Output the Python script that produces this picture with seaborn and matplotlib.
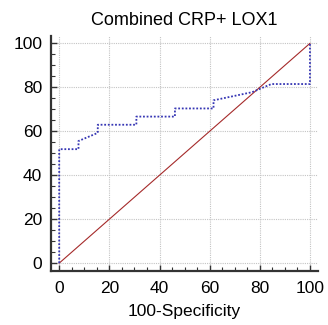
import numpy as np
import pandas as pd
import matplotlib
matplotlib.use("Agg")
import matplotlib.pyplot as plt
from matplotlib.ticker import MultipleLocator
import seaborn as sns

# ROC points (13 negatives, 27 positives)
fpr = [0, 0, 7.69, 7.69, 15.38, 15.38, 30.77, 30.77, 46.15, 46.15, 61.54, 61.54, 76.92, 84.62, 100, 100]
tpr = [0, 51.85, 51.85, 55.56, 59.26, 62.96, 62.96, 66.67, 66.67, 70.37, 70.37, 74.07, 77.78, 81.48, 81.48, 100]
diag = [0, 100]

sns.set_style("ticks")
plt.rcParams['font.family'] = ['Liberation Sans', 'DejaVu Sans']
plt.rcParams['text.color'] = 'black'
plt.rcParams['axes.labelcolor'] = 'black'

roc = pd.DataFrame({"x": fpr, "y": tpr})
ref = pd.DataFrame({"x": diag, "y": diag})

fig = plt.figure(figsize=(3.28, 3.25), dpi=100)
ax = fig.add_axes([0.1545, 0.166, 0.815, 0.723])

ax.grid(True, which="major", color="#c4c4c4", linestyle=(0, (1, 1)), linewidth=0.8)
ax.set_axisbelow(True)

sns.lineplot(data=ref, x="x", y="y", sort=False, estimator=None, color="#a52a2a",
             linewidth=0.8, ax=ax)
sns.lineplot(data=roc, x="x", y="y", sort=False, estimator=None, color="#3636b4",
             linewidth=1.3, linestyle=(0, (1, 1)), ax=ax)

ax.set_xlim(-3.4, 103.2)
ax.set_ylim(-3.6, 103.3)
ax.xaxis.set_major_locator(MultipleLocator(20))
ax.yaxis.set_major_locator(MultipleLocator(20))
ax.xaxis.set_minor_locator(MultipleLocator(5))
ax.yaxis.set_minor_locator(MultipleLocator(5))
ax.tick_params(which="major", direction="in", length=4, width=1, colors="#333333",
               labelcolor="black", labelsize=12.5)
ax.tick_params(axis="x", which="major", pad=7)
ax.tick_params(axis="y", which="major", pad=6)
ax.tick_params(which="minor", direction="in", length=3, width=0.8, colors="#333333")

sns.despine(ax=ax)
for s in ["left", "bottom"]:
    ax.spines[s].set_linewidth(1.6)
    ax.spines[s].set_color("#333333")

ax.set_xlabel("100-Specificity", fontsize=12.5, labelpad=6, color="black")
ax.set_ylabel("")
ax.set_title("Combined CRP+ LOX1", fontsize=13, pad=8, color="black")

fig.savefig("out.png", dpi=100)
